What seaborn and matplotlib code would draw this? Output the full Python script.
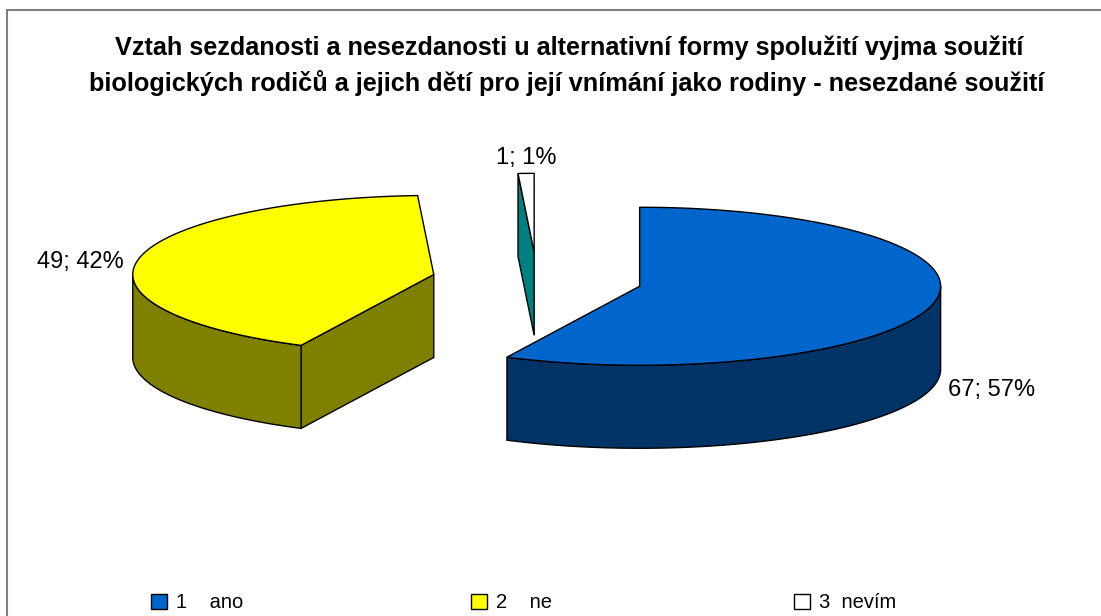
import numpy as np
import matplotlib
matplotlib.use("Agg")
import matplotlib.pyplot as plt
from matplotlib.patches import Polygon, Patch
from matplotlib.lines import Line2D
import seaborn as sns

# ---- data ----
codes = ["1", "2", "3"]
categories = ["ano", "ne", "nevím"]
values = [67, 49, 1]
title_lines = ["Vztah sezdanosti a nesezdanosti u alternativní formy spolužití vyjma soužití",
               "biologických rodičů a jejich dětí pro její vnímání jako rodiny - nesezdané soužití"]

# ---- style ----
top_colors = ["#0066CC", "#FFFF00", "#FFFFFF"]
side_colors = ["#003366", "#808000", "#008080"]

sns.set_theme(style="white")
plt.rcParams['font.family'] = ['Liberation Sans', 'DejaVu Sans']
plt.rcParams['text.color'] = 'black'

W, H = 1101, 616
fig = plt.figure(figsize=(W / 100, H / 100), dpi=100)
ax = fig.add_axes([0, 0, 1, 1])
ax.set_xlim(0, W)
ax.set_ylim(H, 0)
ax.axis("off")

# pie geometry (pixel layout)
cx, cy = 537.0, 280.0
a, b = 301.0, 79.0
depth = 83.0
explode = 0.35
label_gap = 15.0


def pt(c, t, r=1.0):
    return (c[0] + r * a * np.sin(np.radians(t)), c[1] - r * b * np.cos(np.radians(t)))


def arc(c, t0, t1, dy=0.0):
    ts = np.linspace(t0, t1, max(2, int(abs(t1 - t0)) * 2 + 2))
    return [(c[0] + a * np.sin(np.radians(t)), c[1] - b * np.cos(np.radians(t)) + dy) for t in ts]


total = float(sum(values))
angles = np.concatenate([[0.0], np.cumsum(values) / total * 360.0])

slices = []
for i, v in enumerate(values):
    t0, t1 = angles[i], angles[i + 1]
    mid = (t0 + t1) / 2
    c = pt((cx, cy), mid, explode)
    slices.append((i, t0, t1, mid, c))

draw_order = [1, 2, 0]
for i in draw_order:
    _, t0, t1, mid, c = slices[i]
    lw = 1.0
    # cut faces
    for t, nrm in ((t0, t0 - 90), (t1, t1 + 90)):
        if np.cos(np.radians(nrm)) < -1e-6:
            p = pt(c, t)
            quad = [c, p, (p[0], p[1] + depth), (c[0], c[1] + depth)]
            ax.add_patch(Polygon(quad, closed=True, facecolor=side_colors[i],
                                 edgecolor="black", lw=lw, zorder=2))
    # outer wall (front half)
    w0, w1 = max(t0, 90.0), min(t1, 270.0)
    if w1 > w0:
        poly = arc(c, w0, w1) + arc(c, w1, w0, depth)
        ax.add_patch(Polygon(poly, closed=True, facecolor=side_colors[i],
                             edgecolor="black", lw=lw, zorder=2))
    # top face
    poly = [c] + arc(c, t0, t1)
    ax.add_patch(Polygon(poly, closed=True, facecolor=top_colors[i],
                         edgecolor="black", lw=lw, zorder=3))
    # label, just outside the rim at the mid angle
    rx, ry = pt(c, mid)
    s, co = np.sin(np.radians(mid)), np.cos(np.radians(mid))
    if co < 0:
        ry += depth
    if s > 0.3:
        ha, va, lx, ly = "left", "center", rx + label_gap, ry + 3
    elif s < -0.3:
        ha, va, lx, ly = "right", "center", rx - label_gap, ry + 3
    else:
        ha, va, lx, ly = "center", "bottom", rx, ry - 4
    pct = int(round(values[i] / total * 100))
    ax.text(lx, ly, f"{values[i]}; {pct}%", ha=ha, va=va,
            fontsize=17, color="black", zorder=5)

# title
fig.text(569 / W, 1 - 48 / H, title_lines[0], ha="center", va="center",
         fontsize=18.2, fontweight="bold", color="black")
fig.text(567 / W, 1 - 83 / H, title_lines[1], ha="center", va="center",
         fontsize=18.2, fontweight="bold", color="black")

# legend (one entry per column position)
legend_x = [151, 471, 794]
gaps = ["    ", "    ", "  "]
for i in range(3):
    h = Patch(facecolor=top_colors[i], edgecolor="black", lw=1.0)
    leg = fig.legend([h], [f"{codes[i]}{gaps[i]}{categories[i]}"], loc="center left",
                     bbox_to_anchor=(legend_x[i] / W, 1 - 603 / H), frameon=False,
                     fontsize=14.5, handlelength=0.8, handleheight=0.7,
                     handletextpad=0.45, borderpad=0, borderaxespad=0)
    for txt in leg.get_texts():
        txt.set_color("black")

# chart frame
fig.add_artist(Line2D([7 / W, 1], [1 - 10 / H, 1 - 10 / H], color="#808080", lw=1.5,
                      transform=fig.transFigure))
fig.add_artist(Line2D([7 / W, 7 / W], [0, 1 - 10 / H], color="#808080", lw=1.5,
                      transform=fig.transFigure))

fig.savefig("out.png", dpi=100, facecolor="white")
